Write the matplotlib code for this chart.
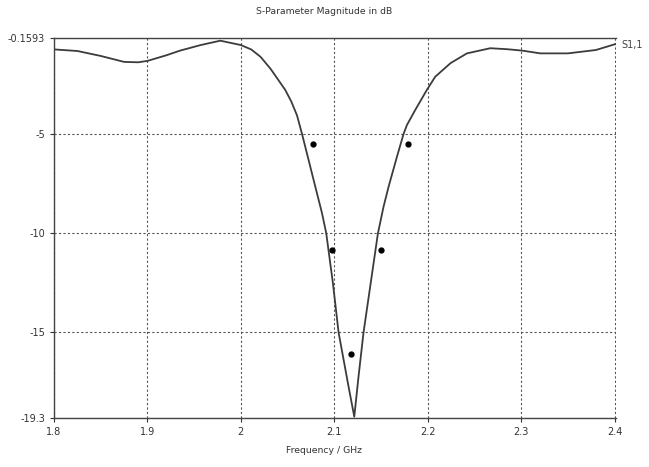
import numpy as np
import matplotlib.pyplot as plt

# S11 curve
freq = [1.800, 1.825, 1.850, 1.875, 1.890, 1.900, 1.920, 1.935, 1.957, 1.978,
        2.000, 2.011, 2.021, 2.0318, 2.0395, 2.0476, 2.054, 2.0601, 2.0655,
        2.0725, 2.0797, 2.0869, 2.0914, 2.0985, 2.1046, 2.1153, 2.1214, 2.126,
        2.1313, 2.139, 2.1467, 2.1527, 2.1581, 2.1671, 2.1741, 2.1778, 2.1866,
        2.199, 2.208, 2.2245, 2.242, 2.267, 2.285, 2.301, 2.3205, 2.350, 2.380,
        2.401]
s11 = [-0.72, -0.80, -1.05, -1.35, -1.37, -1.30, -1.02, -0.78, -0.50, -0.28,
       -0.50, -0.72, -1.09, -1.70, -2.22, -2.77, -3.35, -4.05, -4.99,
       -6.30, -7.65, -8.99, -10.0, -12.5, -15.0, -17.74, -19.25, -17.2,
       -15.0, -12.5, -10.0, -8.66, -7.65, -6.13, -4.99, -4.53, -3.78,
       -2.77, -2.1, -1.41, -0.92, -0.66, -0.71, -0.78, -0.92, -0.92, -0.75,
       -0.45]

# goal markers
goal_f = [2.0768, 2.0975, 2.1174, 2.150, 2.179]
goal_db = [-5.49, -10.83, -16.09, -10.86, -5.49]

xticks = [1.8, 1.9, 2.0, 2.1, 2.2, 2.3, 2.4]
xlabels = ["1.8", "1.9", "2", "2.1", "2.2", "2.3", "2.4"]
yticks = [-0.1593, -5, -10, -15, -19.3]
ylabels = ["-0.1593", "-5", "-10", "-15", "-19.3"]

plt.rcParams['font.family'] = ['DejaVu Sans']
fig = plt.figure(figsize=(6.49, 4.67), dpi=100)
ax = fig.add_axes([0.0832, 0.1056, 0.8652, 0.8124])

ax.plot(freq, s11, color="#3c3c3c", lw=1.3)
ax.plot(goal_f, goal_db, "o", color="black", ms=3.5)

ax.set_xlim(1.8, 2.401)
ax.set_ylim(-19.3, -0.1593)
ax.set_xticks(xticks)
ax.set_xticklabels(xlabels)
ax.set_yticks(yticks)
ax.set_yticklabels(ylabels)
ax.tick_params(labelsize=7, colors="#333333", length=3, width=0.8)
ax.grid(True, linestyle=(0, (2, 2)), color="#555555", lw=0.8)

for s in ax.spines.values():
    s.set_color("#444444")
    s.set_linewidth(1.0)
ax.spines["right"].set_visible(False)

fig.text(0.5, 0.975, "S-Parameter Magnitude in dB", ha="center", va="center",
         fontsize=6.7, color="#333333")
fig.text(0.5, 0.036, "Frequency / GHz", ha="center", va="center",
         fontsize=6.7, color="#333333")
fig.text(0.958, 0.904, "S1,1", ha="left", va="center", fontsize=7, color="#444444")

fig.savefig("out.png", dpi=100)
